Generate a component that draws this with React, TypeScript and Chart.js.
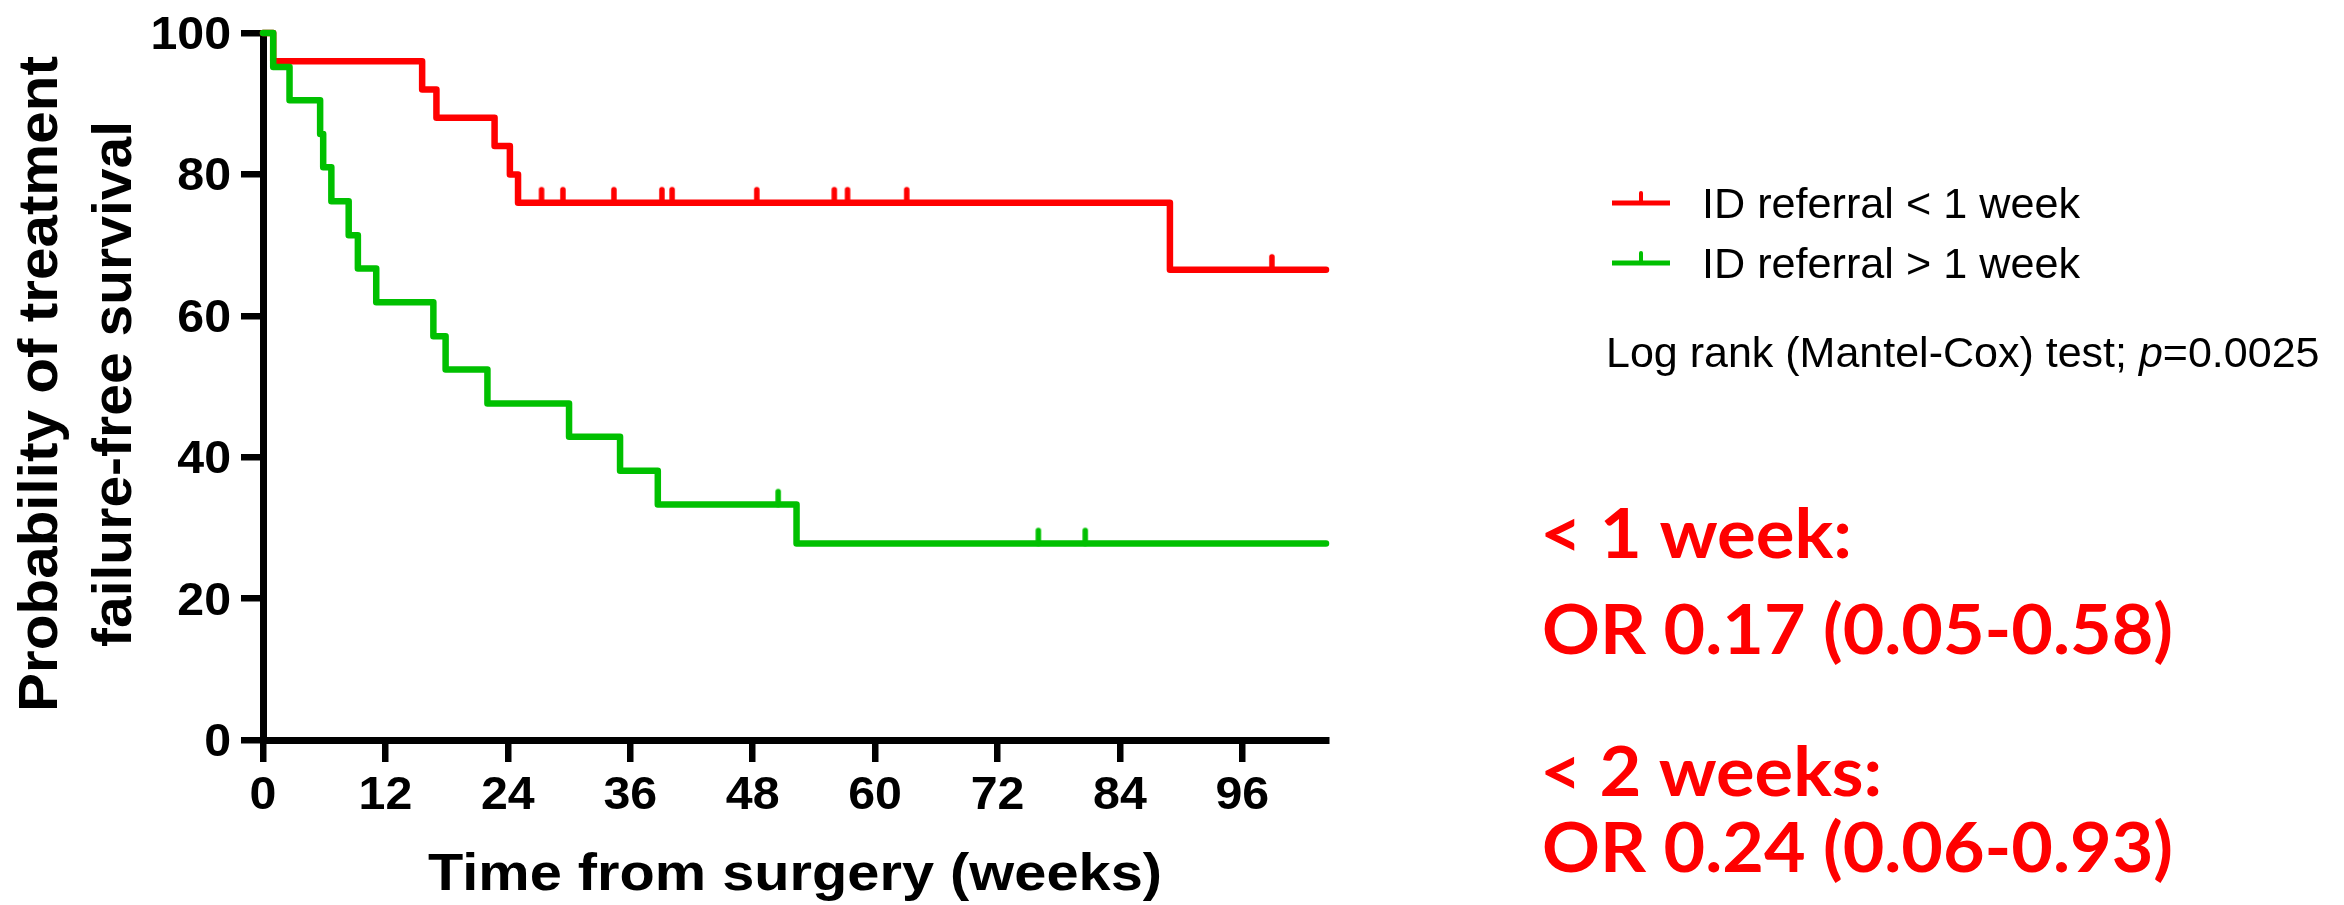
import React, { useEffect, useRef } from 'react';
import { Chart, registerables } from 'chart.js';

Chart.register(...registerables);

// ---------- data ----------
const X_TICKS = [0, 12, 24, 36, 48, 60, 72, 84, 96];
const Y_TICKS = [0, 20, 40, 60, 80, 100];
const X_MAX = 104.2;

const RED_TIMES = [0, 1.0, 15.6, 17.0, 22.7, 24.2, 25.0, 88.9, 104.2];
const RED_SURVIVAL = [100, 96, 92, 88, 84, 80, 76, 66.5, 66.5];
const RED_CENSOR_TIMES = [27.3, 29.4, 34.4, 39.1, 40.1, 48.4, 56.0, 57.3, 63.1, 98.9];
const RED_CENSOR_SURVIVAL = [76, 76, 76, 76, 76, 76, 76, 76, 76, 66.5];

const GREEN_TIMES = [0, 1.0, 2.6, 5.6, 5.9, 6.7, 8.4, 9.3, 11.1, 16.7, 17.9, 22.0, 30.0, 35.0, 38.7, 52.3, 104.2];
const GREEN_SURVIVAL = [100, 95.2, 90.5, 85.7, 81.0, 76.2, 71.4, 66.7, 61.9, 57.1, 52.4, 47.6, 42.9, 38.1, 33.3, 27.8, 27.8];
const GREEN_CENSOR_TIMES = [50.5, 76.0, 80.6];
const GREEN_CENSOR_SURVIVAL = [33.3, 27.8, 27.8];

const LEGEND_LABELS = ['ID referral < 1 week', 'ID referral > 1 week'];
const X_TITLE = 'Time from surgery (weeks)';
const Y_TITLE = ['Probability of treatment', 'failure-free survival'];
const TEST_TEXT = ['Log rank (Mantel-Cox) test; ', 'p', '=0.0025'];
const OR_LINES = ['< 1 week:', 'OR 0.17 (0.05-0.58)', '< 2 weeks:', 'OR 0.24 (0.06-0.93)'];

const RED = '#ff0000';
const GREEN = '#00c000';
const ARIAL = '"Liberation Sans", Arial, sans-serif';
const CALIBRI = 'Lato, "Open Sans", sans-serif';

// ---------- helpers ----------
function censorImage(color: string): HTMLCanvasElement {
  const c = document.createElement('canvas');
  c.width = 12;
  c.height = 40;
  const g = c.getContext('2d')!;
  g.strokeStyle = color;
  g.lineWidth = 5.5;
  g.lineCap = 'round';
  g.beginPath();
  g.moveTo(6, 20);
  g.lineTo(6, 7);
  g.stroke();
  return c;
}

function drawText(
  ctx: CanvasRenderingContext2D,
  s: string,
  x: number,
  y: number,
  font: string,
  color: string,
  align: CanvasTextAlign,
  targetWidth?: number,
  sx0 = 1
) {
  ctx.save();
  ctx.font = font;
  ctx.fillStyle = color;
  ctx.textAlign = align;
  ctx.textBaseline = 'alphabetic';
  let sx = sx0;
  if (targetWidth) sx = targetWidth / ctx.measureText(s).width;
  ctx.translate(x, y);
  ctx.scale(sx, 1);
  ctx.fillText(s, 0, 0);
  ctx.restore();
}

const textPlugin = {
  id: 'kmText',
  afterDraw(chart: any) {
    const ctx: CanvasRenderingContext2D = chart.ctx;
    const xs = chart.scales.x;
    const ys = chart.scales.y;

    // tick labels
    const tickFont = `bold 46px ${ARIAL}`;
    X_TICKS.forEach((v) => drawText(ctx, String(v), xs.getPixelForValue(v), 809, tickFont, '#000', 'center', undefined, 1.05));
    Y_TICKS.forEach((v) => drawText(ctx, String(v), 231, ys.getPixelForValue(v) + 16, tickFont, '#000', 'right', undefined, 1.05));

    // x title
    drawText(ctx, X_TITLE, 795, 890, `bold 52px ${ARIAL}`, '#000', 'center', 734);

    // y title (rotated)
    const yt = [
      { s: Y_TITLE[0], bx: 57, w: 656 },
      { s: Y_TITLE[1], bx: 131, w: 526 },
    ];
    yt.forEach((l) => {
      ctx.save();
      ctx.translate(l.bx, 384);
      ctx.rotate(-Math.PI / 2);
      drawText(ctx, l.s, 0, 0, `bold 55px ${ARIAL}`, '#000', 'center', l.w);
      ctx.restore();
    });

    // legend
    const rows = [
      { color: RED, y: 203, base: 218, label: LEGEND_LABELS[0] },
      { color: GREEN, y: 263, base: 277.5, label: LEGEND_LABELS[1] },
    ];
    rows.forEach((r) => {
      ctx.save();
      ctx.strokeStyle = r.color;
      ctx.lineWidth = 5;
      ctx.beginPath();
      ctx.moveTo(1612, r.y);
      ctx.lineTo(1670, r.y);
      ctx.stroke();
      ctx.lineWidth = 4;
      ctx.lineCap = 'round';
      ctx.beginPath();
      ctx.moveTo(1641, r.y);
      ctx.lineTo(1641, r.y - 10);
      ctx.stroke();
      ctx.restore();
      drawText(ctx, r.label, 1702, r.base, `43px ${ARIAL}`, '#000', 'left', 378);
    });

    // log rank text
    ctx.save();
    ctx.fillStyle = '#000';
    ctx.textBaseline = 'alphabetic';
    ctx.textAlign = 'left';
    let x = 1606;
    const y = 367;
    ctx.font = `43px ${ARIAL}`;
    ctx.fillText(TEST_TEXT[0], x, y);
    x += ctx.measureText(TEST_TEXT[0]).width;
    ctx.font = `italic 43px ${ARIAL}`;
    ctx.fillText(TEST_TEXT[1], x, y);
    x += ctx.measureText(TEST_TEXT[1]).width;
    ctx.font = `43px ${ARIAL}`;
    ctx.fillText(TEST_TEXT[2], x, y);
    ctx.restore();

    // OR annotations
    const orPos = [
      { x: 1540, y: 558, w: 312 },
      { x: 1542, y: 654, w: 631 },
      { x: 1540, y: 796, w: 342 },
      { x: 1542, y: 872, w: 631 },
    ];
    OR_LINES.forEach((s, i) => {
      const p = orPos[i];
      drawText(ctx, s, p.x, p.y, `bold 68px ${CALIBRI}`, RED, 'left', p.w);
    });
  },
};

export default function App() {
  const ref = useRef<HTMLCanvasElement | null>(null);

  useEffect(() => {
    document.body.style.margin = '0';
    const canvas = ref.current!;
    const redImg = censorImage(RED);
    const greenImg = censorImage(GREEN);

    const lineDs = (times: number[], surv: number[], color: string, order: number, label: string) => ({
      type: 'line' as const,
      label,
      data: times.map((t, i) => ({ x: t, y: surv[i] })),
      borderColor: color,
      backgroundColor: color,
      borderWidth: 6.5,
      stepped: true,
      pointRadius: 0,
      fill: false,
      clip: false as const,
      order,
      borderCapStyle: 'round' as const,
      borderJoinStyle: 'round' as const,
    });
    const censorDs = (times: number[], surv: number[], img: HTMLCanvasElement, order: number) => ({
      type: 'line' as const,
      data: times.map((t, i) => ({ x: t, y: surv[i] })),
      showLine: false,
      pointStyle: img,
      pointRadius: 5,
      clip: false as const,
      order,
    });

    const axisCommon = {
      type: 'linear' as const,
      bounds: 'data' as const,
      ticks: { display: false },
      grid: {
        display: true,
        drawOnChartArea: false,
        drawTicks: true,
        tickLength: 22,
        tickWidth: 6.5,
        tickColor: '#000',
        lineWidth: 6.5,
        color: '#000',
      },
      border: { display: true, width: 7, color: '#000' },
      title: { display: false },
    };

    const chart = new Chart(canvas, {
      type: 'line',
      data: {
        datasets: [
          lineDs(RED_TIMES, RED_SURVIVAL, RED, 3, LEGEND_LABELS[0]),
          lineDs(GREEN_TIMES, GREEN_SURVIVAL, GREEN, 2, LEGEND_LABELS[1]),
          censorDs(RED_CENSOR_TIMES, RED_CENSOR_SURVIVAL, redImg, 1),
          censorDs(GREEN_CENSOR_TIMES, GREEN_CENSOR_SURVIVAL, greenImg, 0),
        ] as any,
      },
      options: {
        responsive: false,
        animation: false,
        devicePixelRatio: 1,
        events: [],
        layout: { autoPadding: false, padding: { left: 0, top: 33, right: 1018, bottom: 0 } },
        plugins: {
          legend: { display: false },
          tooltip: { enabled: false },
          title: { display: false },
        },
        scales: {
          x: {
            ...axisCommon,
            position: 'bottom',
            min: 0,
            max: X_MAX,
            afterBuildTicks: (s: any) => {
              s.ticks = X_TICKS.map((v) => ({ value: v }));
            },
            afterFit: (s: any) => {
              s.height = 905 - 740;
            },
          },
          y: {
            ...axisCommon,
            position: 'left',
            min: 0,
            max: 100,
            afterBuildTicks: (s: any) => {
              s.ticks = Y_TICKS.map((v) => ({ value: v }));
            },
            afterFit: (s: any) => {
              s.width = 263;
            },
          },
        },
      } as any,
      plugins: [textPlugin],
    });

    return () => chart.destroy();
  }, []);

  return (
    <div style={{ width: 2344, height: 905, background: '#fff' }}>
      <canvas ref={ref} width={2344} height={905} style={{ display: 'block' }} />
    </div>
  );
}
